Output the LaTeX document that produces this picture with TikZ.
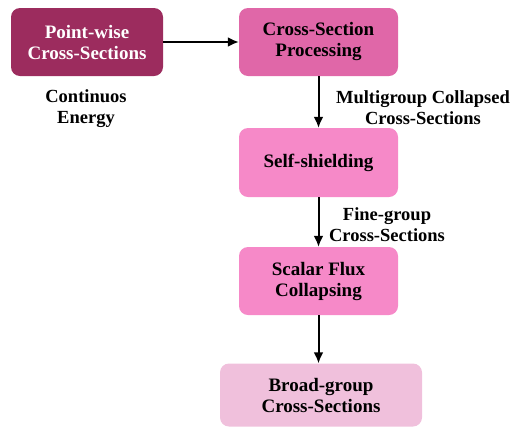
\documentclass[tikz,border=0pt]{standalone}
\usepackage{fontspec}
\setmainfont{Liberation Serif}
\usetikzlibrary{arrows.meta}
\definecolor{plum}{HTML}{9C2C5E}
\definecolor{rose}{HTML}{E067A8}
\definecolor{pinkbox}{HTML}{F689C8}
\definecolor{palepink}{HTML}{F0C0DC}
\tikzset{
  stagebox/.style={rounded corners=9pt, align=center, inner sep=0pt,
    font=\fontsize{19}{21}\selectfont\bfseries},
  flowarrow/.style={line width=2pt, -{Latex[length=11pt,width=10pt]}},
  note/.style={align=center, font=\fontsize{18.5}{21}\selectfont\bfseries}
}
\begin{document}
\begin{tikzpicture}[x=1pt,y=-1pt]
\useasboundingbox (0,0) rectangle (510,429);
\node[stagebox, fill=plum, text=white, minimum width=152pt, minimum height=68pt]
  (pw) at (87,42) {Point-wise\\Cross-Sections};
\node[stagebox, fill=rose, minimum width=159pt, minimum height=68pt]
  (csp) at (318.5,42) {Cross-Section\\Processing};
\node[stagebox, fill=pinkbox, minimum width=159pt, minimum height=69pt]
  (ss) at (318.5,162.5) {Self-shielding};
\node[stagebox, fill=pinkbox, minimum width=159pt, minimum height=68pt]
  (sfc) at (318.5,281) {Scalar Flux\\Collapsing};
\node[stagebox, fill=palepink, minimum width=202pt, minimum height=63pt]
  (bg) at (321,395) {Broad-group\\Cross-Sections};
\node[note] (ce) at (86,109) {Continuos\\Energy};
\node[note] (mg) at (423,108) {Multigroup Collapsed\\Cross-Sections};
\node[note] (fg) at (387,225) {Fine-group\\Cross-Sections};
\draw[flowarrow] (pw) -- (csp);
\draw[flowarrow] (csp) -- (ss);
\draw[flowarrow] (ss) -- (sfc);
\draw[flowarrow] (sfc.south) -- (sfc.south |- bg.north);
\end{tikzpicture}
\end{document}
